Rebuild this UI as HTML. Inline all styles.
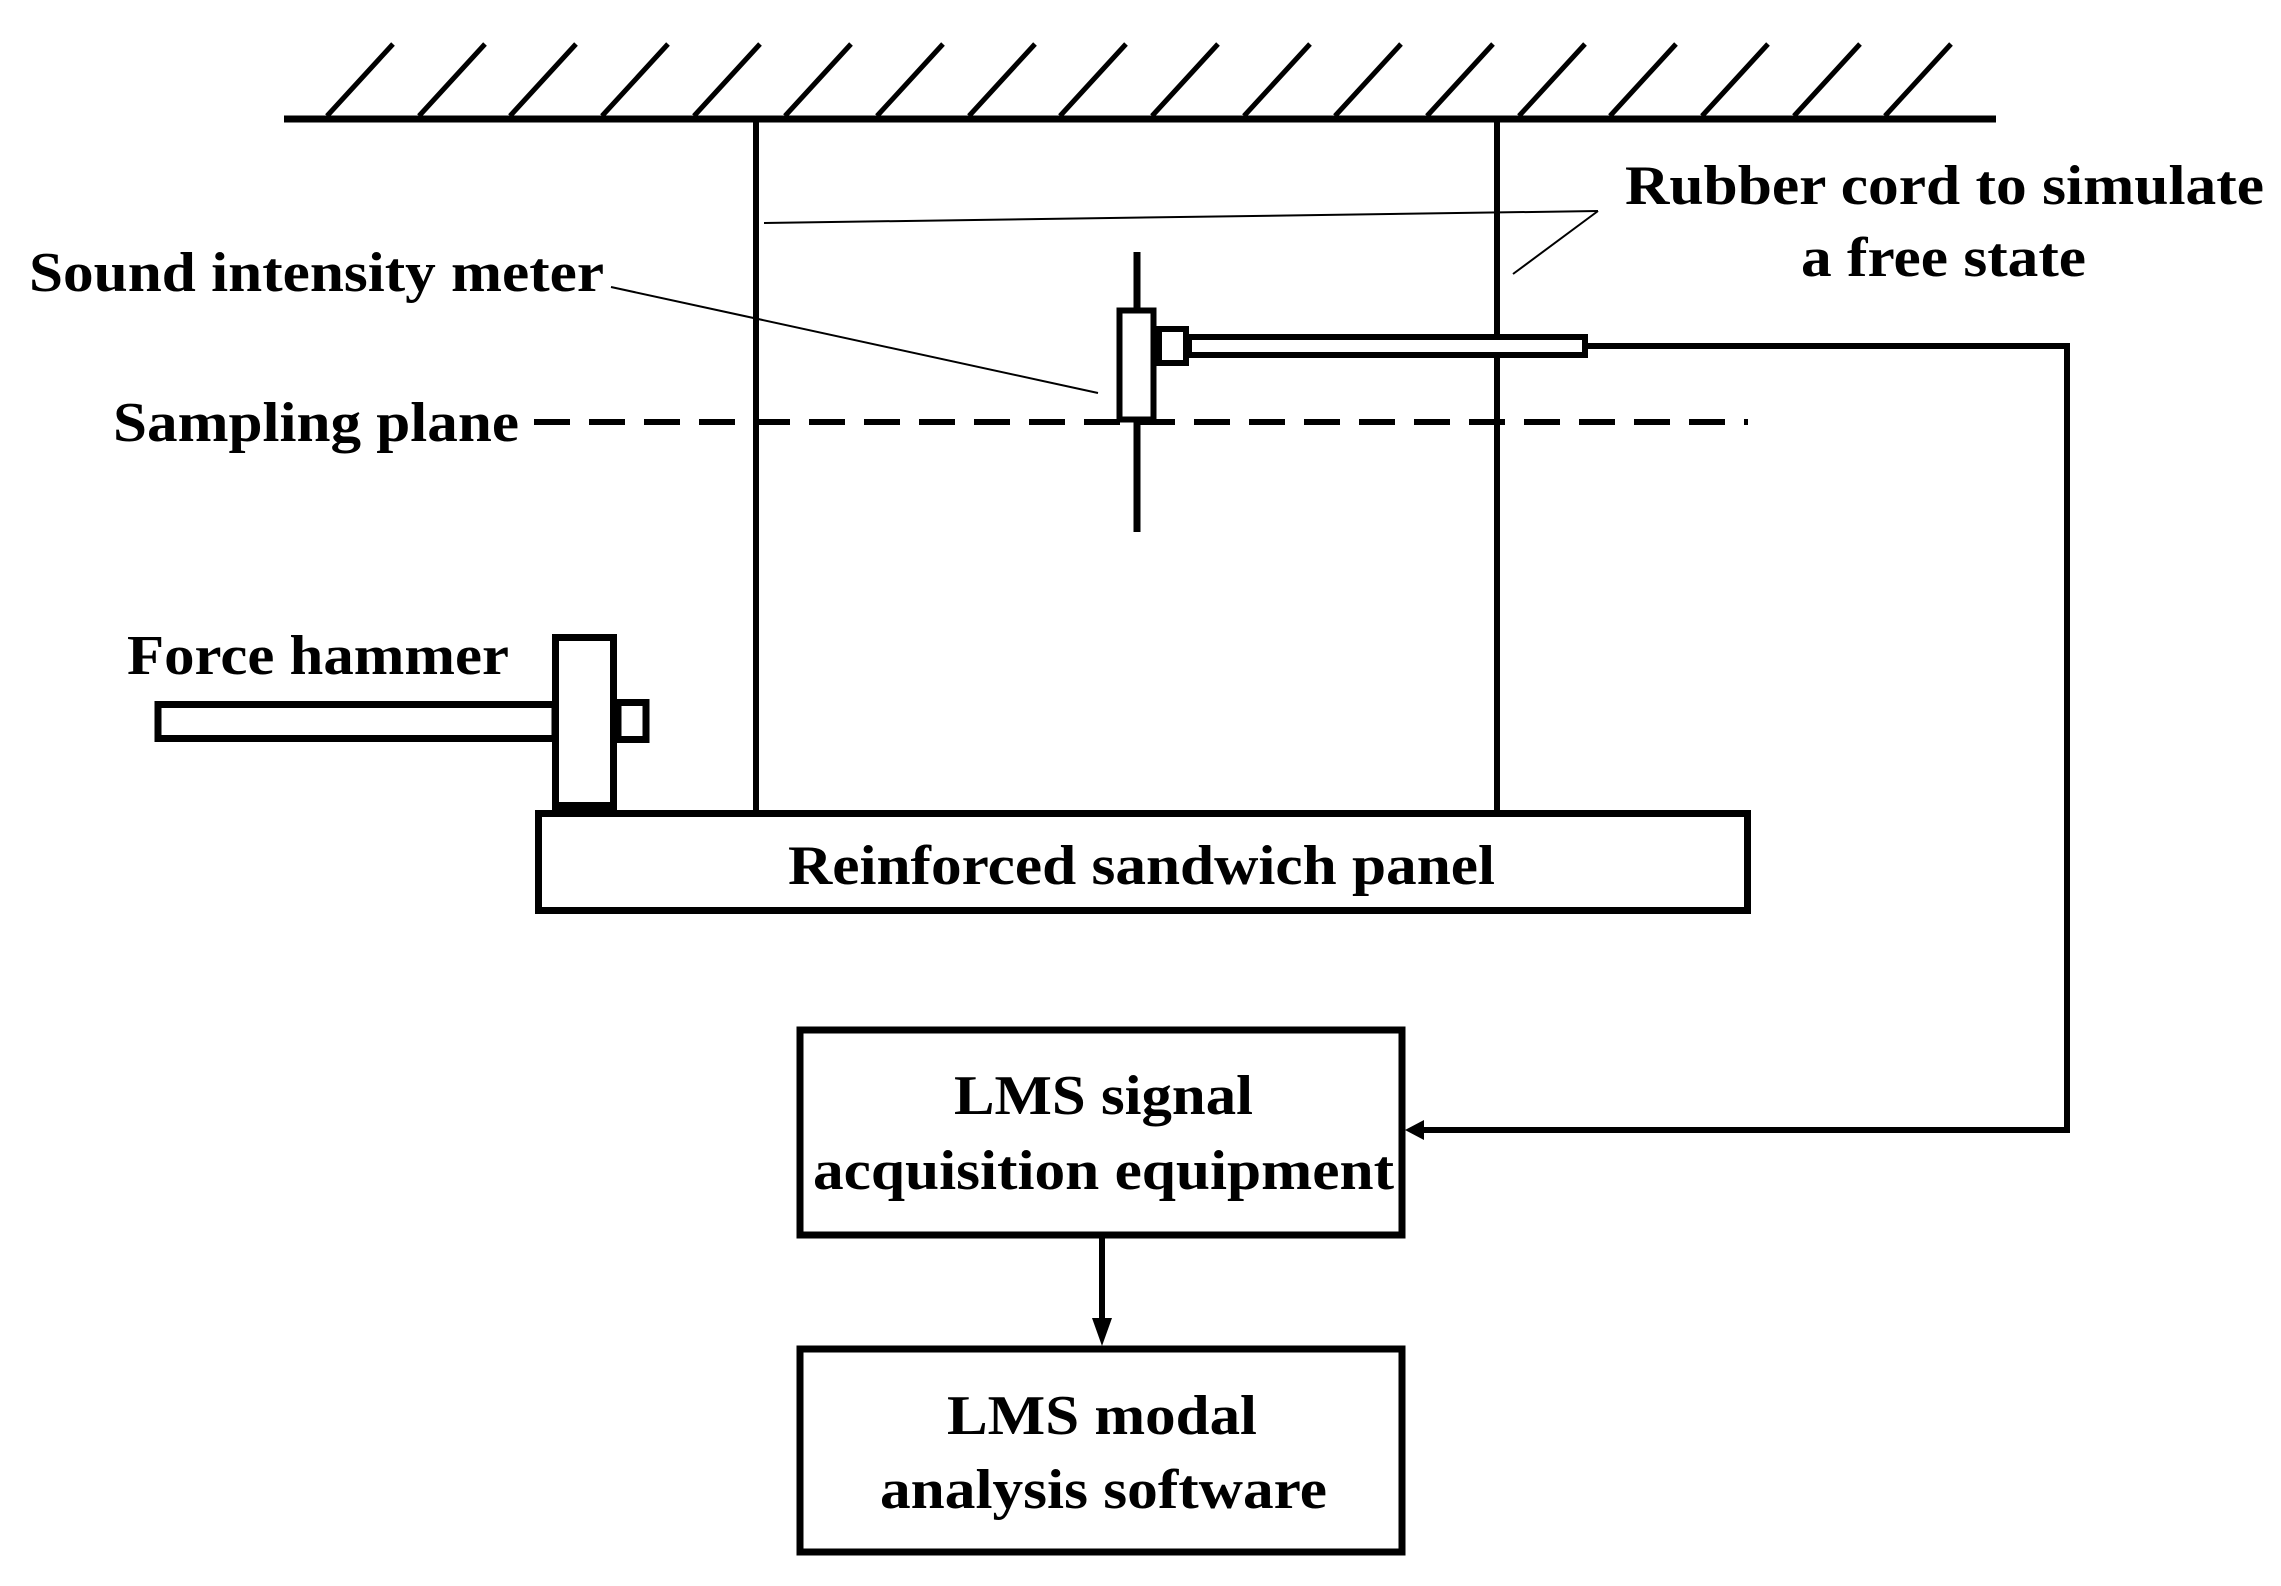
<!DOCTYPE html>
<html><head><meta charset="utf-8"><style>html,body{margin:0;padding:0;background:#fff}svg{display:block}</style></head>
<body>
<svg width="2281" height="1586" viewBox="0 0 2281 1586" xmlns="http://www.w3.org/2000/svg">
<defs><marker id="ah" markerWidth="10" markerHeight="10" refX="9" refY="5" orient="auto" markerUnits="userSpaceOnUse"></marker></defs>
<g stroke="#000" fill="none" stroke-linecap="butt">
<!-- ceiling -->
<line x1="284" y1="119" x2="1996" y2="119" stroke-width="7"/>
<g stroke-width="5">
<line x1="327" y1="116" x2="393" y2="44"/><line x1="419" y1="116" x2="485" y2="44"/><line x1="510" y1="116" x2="576" y2="44"/><line x1="602" y1="116" x2="668" y2="44"/><line x1="694" y1="116" x2="760" y2="44"/><line x1="785" y1="116" x2="851" y2="44"/><line x1="877" y1="116" x2="943" y2="44"/><line x1="969" y1="116" x2="1035" y2="44"/><line x1="1060" y1="116" x2="1126" y2="44"/><line x1="1152" y1="116" x2="1218" y2="44"/><line x1="1244" y1="116" x2="1310" y2="44"/><line x1="1335" y1="116" x2="1401" y2="44"/><line x1="1427" y1="116" x2="1493" y2="44"/><line x1="1519" y1="116" x2="1585" y2="44"/><line x1="1610" y1="116" x2="1676" y2="44"/><line x1="1702" y1="116" x2="1768" y2="44"/><line x1="1794" y1="116" x2="1860" y2="44"/><line x1="1885" y1="116" x2="1951" y2="44"/>
</g>
<!-- cords -->
<line x1="756" y1="119" x2="756" y2="812" stroke-width="6"/>
<line x1="1497" y1="119" x2="1497" y2="812" stroke-width="6"/>
<!-- panel -->
<rect x="538.5" y="813.5" width="1209" height="97" stroke-width="7"/>
<!-- hammer -->
<rect x="158" y="704.5" width="397" height="34" stroke-width="7" fill="#fff"/>
<rect x="618" y="702.5" width="28" height="37" stroke-width="7" fill="#fff"/>
<rect x="555.5" y="637.5" width="58" height="172" stroke-width="7" fill="#fff"/>
<rect x="556" y="802" width="57" height="9" fill="#000" stroke="none"/>
<!-- dashed sampling plane -->
<line x1="534" y1="422" x2="1748" y2="422" stroke-width="6" stroke-dasharray="36 19"/>
<!-- sound meter -->
<line x1="1137" y1="252" x2="1137" y2="532" stroke-width="7"/>
<rect x="1119.5" y="310.5" width="34" height="109" stroke-width="6" fill="#fff"/>
<rect x="1159" y="329" width="27" height="34" stroke-width="6" fill="#fff"/>
<rect x="1189" y="337" width="396" height="18" stroke-width="6" fill="#fff"/>
<polyline points="1588,346 2067,346 2067,1130 1420,1130" stroke-width="6"/>
<!-- leaders -->
<line x1="611" y1="287" x2="1098" y2="393" stroke-width="2"/>
<line x1="1598" y1="211" x2="764" y2="223" stroke-width="2"/>
<line x1="1598" y1="211" x2="1513" y2="274" stroke-width="2"/>
<!-- boxes -->
<rect x="800" y="1030" width="602" height="205" stroke-width="7"/>
<rect x="800" y="1349" width="602" height="203" stroke-width="7"/>
<line x1="1102" y1="1237" x2="1102" y2="1320" stroke-width="6"/>
</g>
<polygon points="1405,1130 1424,1120 1424,1140" fill="#000"/>
<polygon points="1102,1346 1092,1318 1112,1318" fill="#000"/>
<g font-family="'Liberation Serif', serif" font-weight="bold" font-size="56" fill="#000">
<text x="29" y="291" textLength="575" lengthAdjust="spacingAndGlyphs">Sound intensity meter</text>
<text x="113" y="441" textLength="406" lengthAdjust="spacingAndGlyphs">Sampling plane</text>
<text x="127" y="674" textLength="382" lengthAdjust="spacingAndGlyphs">Force hammer</text>
<text x="1625" y="204" textLength="639" lengthAdjust="spacingAndGlyphs">Rubber cord to simulate</text>
<text x="1801" y="276" textLength="285" lengthAdjust="spacingAndGlyphs">a free state</text>
<text x="788" y="884" textLength="707" lengthAdjust="spacingAndGlyphs">Reinforced sandwich panel</text>
<text x="954" y="1114" textLength="299" lengthAdjust="spacingAndGlyphs">LMS signal</text>
<text x="813" y="1189" textLength="581" lengthAdjust="spacingAndGlyphs">acquisition equipment</text>
<text x="947" y="1434" textLength="310" lengthAdjust="spacingAndGlyphs">LMS modal</text>
<text x="880" y="1508" textLength="447" lengthAdjust="spacingAndGlyphs">analysis software</text>
</g>
</svg>
</body></html>
